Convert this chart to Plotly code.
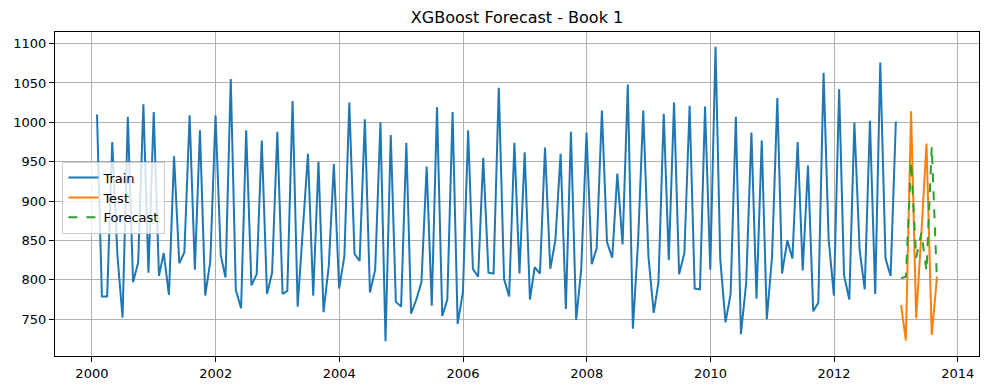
import pandas as pd
import plotly.graph_objects as go

train_values = [1010, 779, 779, 975, 830, 752, 1007, 797, 822, 1023, 809, 1013, 805, 834, 781, 957, 821, 835, 1009, 813,
                990, 780, 823, 1009, 831, 803, 1055, 787, 764, 990, 793, 807, 977, 782, 809, 988, 782, 786, 1027, 766,
                865, 960, 780, 950, 759, 818, 947, 789, 830, 1025, 833, 824, 1004, 784, 813, 1000, 722, 984, 772, 766,
                974, 757, 775, 797, 944, 767, 1019, 754, 775, 1013, 744, 784, 990, 814, 804, 955, 809, 808, 1044, 801,
                779, 974, 808, 962, 775, 816, 808, 968, 814, 850, 960, 763, 988, 749, 814, 987, 820, 840, 1015, 848,
                828, 935, 845, 1048, 738, 850, 1015, 829, 758, 797, 1011, 825, 1025, 807, 834, 1021, 789, 788, 1020, 813,
                1096, 826, 746, 782, 1007, 731, 796, 987, 776, 977, 750, 830, 1031, 808, 850, 827, 975, 812, 945, 760,
                771, 1063, 852, 780, 1042, 806, 775, 1000, 838, 788, 1002, 782, 1076, 827, 805, 1001]
test_values = [768, 723, 1014, 751, 860, 973, 730, 804]
forecast_values = [802, 804, 950, 828, 860, 811, 969, 798]

train_dates = pd.date_range("2000-01-31", periods=len(train_values), freq="ME")
test_dates = pd.date_range("2013-01-31", periods=len(test_values), freq="ME")

year_ticks = [f"{y}-01-01" for y in range(2000, 2015, 2)]
year_labels = [str(y) for y in range(2000, 2015, 2)]

# matplotlib-like 5% margins
t0 = train_dates[0]
t1 = test_dates[-1]
span = t1 - t0
xr = [t0 - span * 0.05, t1 + span * 0.05]
allv = train_values + test_values + forecast_values
vmin, vmax = min(allv), max(allv)
yr = [vmin - 0.05 * (vmax - vmin), vmax + 0.05 * (vmax - vmin)]

fig = go.Figure()
fig.add_trace(go.Scatter(x=train_dates, y=train_values, mode="lines", name="Train",
                         line=dict(color="#1f77b4", width=2)))
fig.add_trace(go.Scatter(x=test_dates, y=test_values, mode="lines", name="Test",
                         line=dict(color="#ff7f0e", width=2)))
fig.add_trace(go.Scatter(x=test_dates, y=forecast_values, mode="lines", name="Forecast",
                         line=dict(color="#2ca02c", width=2, dash="dash")))

axis_common = dict(showline=True, linecolor="black", linewidth=1, mirror=True,
                   showgrid=True, gridcolor="#b0b0b0", gridwidth=0.8,
                   ticks="outside", ticklen=5, tickcolor="black",
                   tickfont=dict(family="DejaVu Sans", size=13, color="black"),
                   zeroline=False, automargin=False)

W, H = 981, 382  # page body adds an 8px offset
fig.update_layout(
    width=W, height=H,
    margin=dict(l=47, r=10, t=24, b=34),
    paper_bgcolor="white", plot_bgcolor="white",
    title=dict(text="XGBoost Forecast - Book 1", x=(517 - 8) / W, xanchor="center",
               y=(H - 9) / H, yanchor="middle",
               font=dict(family="DejaVu Sans", size=16, color="black")),
    font=dict(family="DejaVu Sans", color="black"),
    legend=dict(x=0.008, y=0.6, xanchor="left", yanchor="top",
                bgcolor="rgba(255,255,255,0.8)", bordercolor="#cccccc", borderwidth=1,
                font=dict(family="DejaVu Sans", size=13, color="black"),
                itemwidth=30, tracegroupgap=0),
    showlegend=True,
)
fig.update_xaxes(range=xr, tickvals=year_ticks, ticktext=year_labels, **axis_common)
fig.update_yaxes(range=yr, tickvals=list(range(750, 1101, 50)), **axis_common)

fig.write_html("out.html")
